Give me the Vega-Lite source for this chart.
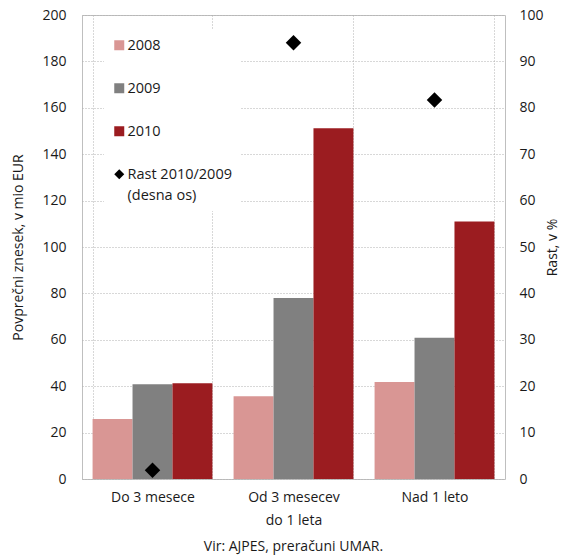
{
  "$schema": "https://vega.github.io/schema/vega-lite/v6.json",
  "width": 423,
  "height": 464,
  "padding": {"left": 11, "top": 8, "right": 5, "bottom": 4},
  "background": "white",
  "config": {
    "font": "Open Sans",
    "view": {"stroke": "#bfbfbf", "strokeWidth": 1},
    "style": {"guide-label": {"lineHeight": 21, "dy": 5}},
    "axis": {
      "labelFontSize": 14,
      "labelColor": "#1a1a1a",
      "titleFontSize": 14,
      "titleFontWeight": "normal",
      "titleColor": "#1a1a1a",
      "domain": false,
      "ticks": false,
      "gridColor": "#b0b0b0",
      "gridDash": [1, 2],
      "gridWidth": 1
    }
  },
  "title": {
    "text": "Vir: AJPES, preračuni UMAR.",
    "orient": "bottom",
    "anchor": "middle",
    "fontSize": 14,
    "fontWeight": "normal",
    "color": "#1a1a1a",
    "offset": 13
  },
  "layer": [
    {
      "data": {
        "values": [
          {"kat": "Do 3 mesece", "serija": "2008", "znesek": 25.9},
          {"kat": "Do 3 mesece", "serija": "2009", "znesek": 40.8},
          {"kat": "Do 3 mesece", "serija": "2010", "znesek": 41.3},
          {"kat": "Od 3 mesecev do 1 leta", "serija": "2008", "znesek": 35.7},
          {"kat": "Od 3 mesecev do 1 leta", "serija": "2009", "znesek": 78.0},
          {"kat": "Od 3 mesecev do 1 leta", "serija": "2010", "znesek": 151.2},
          {"kat": "Nad 1 leto", "serija": "2008", "znesek": 41.8},
          {"kat": "Nad 1 leto", "serija": "2009", "znesek": 60.9},
          {"kat": "Nad 1 leto", "serija": "2010", "znesek": 111.0}
        ]
      },
      "mark": {"type": "bar"},
      "encoding": {
        "x": {
          "field": "kat",
          "type": "nominal",
          "sort": ["Do 3 mesece", "Od 3 mesecev do 1 leta", "Nad 1 leto"],
          "scale": {"paddingInner": 0.15, "paddingOuter": 0.075},
          "axis": {
            "title": null,
            "labelAngle": 0,
            "grid": true,
            "tickBand": "extent",
            "labelPadding": 6,
            "labelLineHeight": 23,
            "labelExpr": "datum.label == 'Od 3 mesecev do 1 leta' ? ['Od 3 mesecev', 'do 1 leta'] : datum.label"
          }
        },
        "xOffset": {"field": "serija", "type": "nominal", "sort": ["2008", "2009", "2010"]},
        "y": {
          "field": "znesek",
          "type": "quantitative",
          "scale": {"domain": [0, 200]},
          "axis": {
            "title": "Povprečni znesek, v mio EUR",
            "values": [0, 20, 40, 60, 80, 100, 120, 140, 160, 180, 200],
            "grid": true,
            "labelPadding": 16,
            "labelOffset": -5,
            "titlePadding": 16
          }
        },
        "color": {
          "field": "serija",
          "type": "nominal",
          "scale": {
            "domain": ["2008", "2009", "2010", "Rast 2010/2009 (desna os)"],
            "range": ["#d99694", "#808080", "#9b1c20", "#000000"]
          },
          "legend": {
            "title": null,
            "orient": "none",
            "legendX": 22,
            "legendY": 15,
            "fillColor": "white",
            "padding": 8,
            "rowPadding": 28,
            "symbolSize": 100,
            "symbolStrokeWidth": 0,
            "labelFontSize": 14.5,
            "labelColor": "#1a1a1a",
            "labelOffset": 1,
            "labelBaseline": "alphabetic",
            "labelExpr": "datum.label == 'Rast 2010/2009 (desna os)' ? ['Rast 2010/2009', '(desna os)'] : datum.label"
          }
        }
      }
    },
    {
      "data": {
        "values": [
          {"kat": "Do 3 mesece", "serija": "Rast 2010/2009 (desna os)", "rast": 1.9},
          {"kat": "Od 3 mesecev do 1 leta", "serija": "Rast 2010/2009 (desna os)", "rast": 94.0},
          {"kat": "Nad 1 leto", "serija": "Rast 2010/2009 (desna os)", "rast": 81.7}
        ]
      },
      "mark": {"type": "point", "filled": true, "opacity": 1, "size": 240},
      "encoding": {
        "x": {
          "field": "kat",
          "type": "nominal",
          "sort": ["Do 3 mesece", "Od 3 mesecev do 1 leta", "Nad 1 leto"]
        },
        "y": {
          "field": "rast",
          "type": "quantitative",
          "scale": {"domain": [0, 100]},
          "axis": {
            "orient": "right",
            "title": "Rast, v %",
            "titleAngle": 270,
            "values": [0, 10, 20, 30, 40, 50, 60, 70, 80, 90, 100],
            "grid": false,
            "labelPadding": 14,
            "labelOffset": -5,
            "titlePadding": 16
          }
        },
        "color": {
          "field": "serija",
          "type": "nominal",
          "scale": {
            "domain": ["2008", "2009", "2010", "Rast 2010/2009 (desna os)"],
            "range": ["#d99694", "#808080", "#9b1c20", "#000000"]
          }
        },
        "shape": {
          "field": "serija",
          "type": "nominal",
          "scale": {
            "domain": ["2008", "2009", "2010", "Rast 2010/2009 (desna os)"],
            "range": ["square", "square", "square", "diamond"]
          }
        }
      }
    }
  ],
  "resolve": {"scale": {"y": "independent"}}
}
